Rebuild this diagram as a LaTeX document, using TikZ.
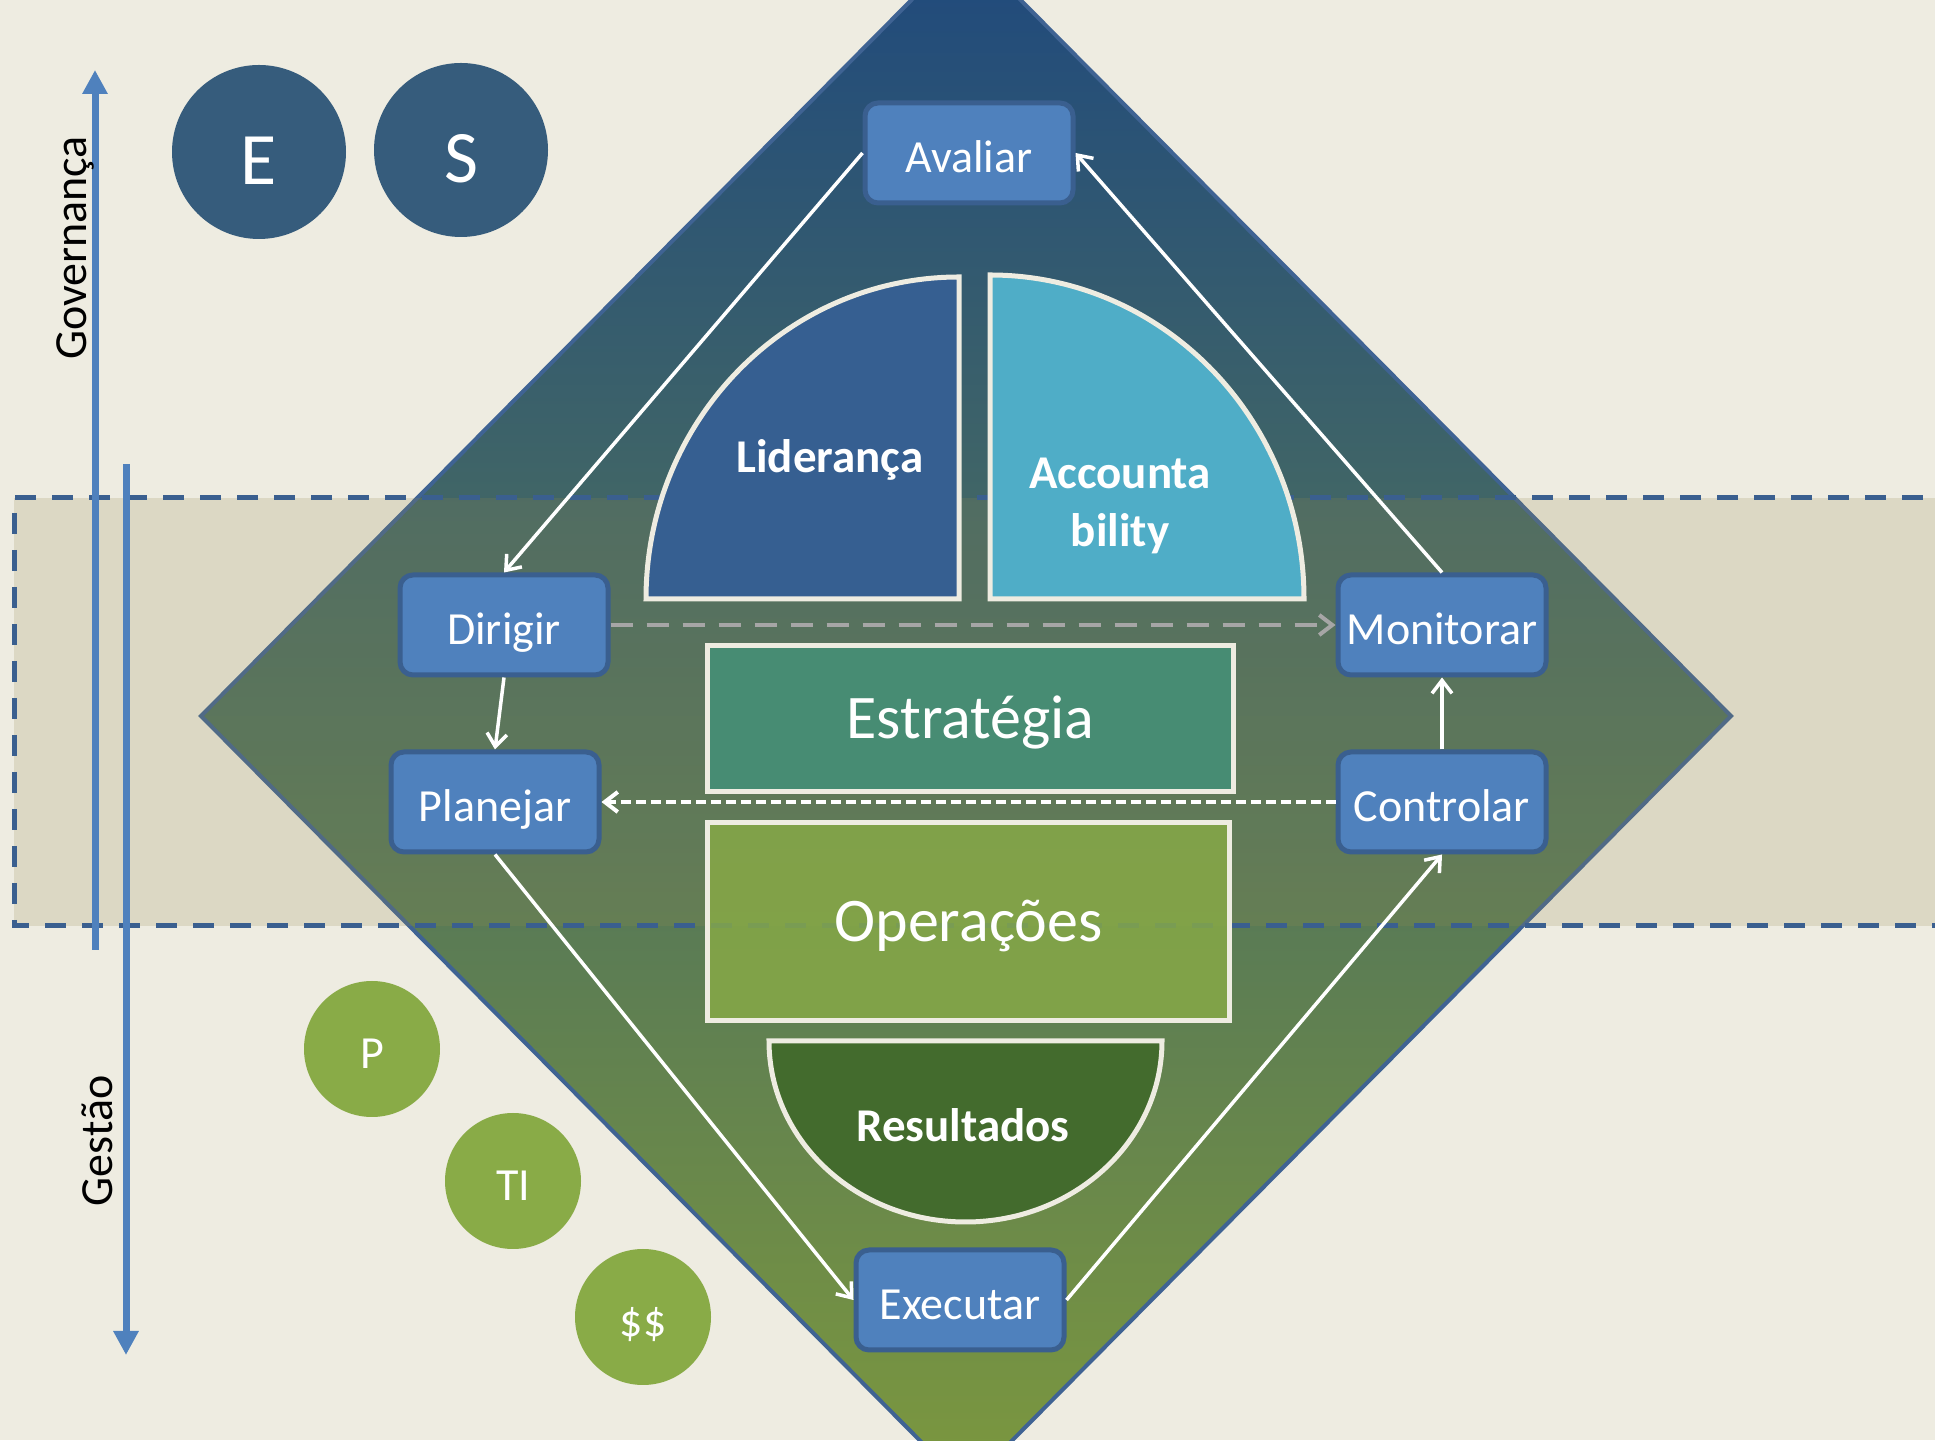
\documentclass[tikz,border=0pt]{standalone}
\usepackage{fontspec}
\setmainfont{Carlito}
\usetikzlibrary{arrows.meta}
\definecolor{fundo}{RGB}{238,236,225}
\definecolor{faixa}{RGB}{148,138,84}
\definecolor{faixaborda}{RGB}{58,95,143}
\definecolor{losango}{RGB}{63,99,147}
\definecolor{topo}{RGB}{31,73,125}
\definecolor{base}{RGB}{124,152,62}
\definecolor{eixo}{RGB}{79,129,189}
\definecolor{escuro}{RGB}{54,92,124}
\definecolor{verde}{RGB}{137,171,71}
\definecolor{lideranca}{RGB}{54,95,145}
\definecolor{accountability}{RGB}{79,173,199}
\definecolor{estrategia}{RGB}{71,140,115}
\definecolor{operacoes}{RGB}{136,170,70}
\definecolor{resultados}{RGB}{67,107,45}
\definecolor{caixaazul}{RGB}{79,129,189}
\definecolor{caixaborda}{RGB}{58,95,143}
\definecolor{cinza}{RGB}{166,166,166}

\begin{document}
\begin{tikzpicture}[x=1pt,y=1pt,
    >={Straight Barb[length=13pt,width=20pt]},
    caixa/.style={draw=caixaborda, line width=5pt, fill=caixaazul, rounded corners=13pt,
      minimum width=208pt, minimum height=100pt, inner sep=0pt, text=white,
      text height=46pt, text depth=6.4pt, font=\fontsize{46}{55}\selectfont},
    bloco/.style={draw=fundo, line width=5pt, inner sep=0pt, text=white,
      text height=50pt, text depth=10.3pt},
    rotulo/.style={text=white, font=\bfseries\fontsize{47}{58}\selectfont},
    bola/.style={circle, inner sep=0pt, text=white},
    seta/.style={draw=white, line width=3.5pt, ->}]
      \useasboundingbox (0,0) rectangle (1935,1440);
      \clip (0,0) rectangle (1935,1440);
      \fill[fundo] (0,0) rectangle (1935,1440);

      \draw[draw=losango, line width=4pt, top color=topo, bottom color=base]
        (966,1495) -- (1731,724) -- (966,-47) -- (201,724) -- cycle;
      \fill[faixa, fill opacity=0.2] (14,514) rectangle (1960,942);
      \draw[faixaborda, line width=5pt, dash pattern=on 21pt off 16pt]
        (1960,942) -- (14,942) -- (14,514) -- (1960,514);

      \coordinate (GovBase) at (95,490);
      \coordinate (GovTopo) at (95,1370);
      \coordinate (GesTopo) at (126,976);
      \coordinate (GesBase) at (126,85);
      \draw[eixo, line width=7pt, -{Triangle[length=24pt,width=24pt]}] (GovBase) -- (GovTopo);
      \draw[eixo, line width=7pt, -{Triangle[length=24pt,width=24pt]}] (GesTopo) -- (GesBase);
      \node[rotate=90, anchor=base, font=\fontsize{46}{55}\selectfont] (Governanca) at (86,1192) {Governança};
      \node[rotate=90, anchor=base, font=\fontsize{46}{55}\selectfont] (Gestao) at (112,299) {Gestão};

      \node[bola, fill=escuro, minimum size=174pt, text height=74pt, text depth=9pt,
        font=\fontsize{74}{88}\selectfont] (E) at (259,1288) {E};
      \node[bola, fill=escuro, minimum size=174pt, text height=74pt, text depth=9pt,
        font=\fontsize{74}{88}\selectfont] (S) at (461,1290) {S};
      \node[bola, fill=verde, minimum size=136pt, text height=46pt, text depth=6.4pt,
        font=\fontsize{46}{55}\selectfont] (P) at (372,391) {P};
      \node[bola, fill=verde, minimum size=136pt, text height=46pt, text depth=6.4pt,
        font=\fontsize{46}{55}\selectfont] (TI) at (513,259) {TI};
      \node[bola, fill=verde, minimum size=136pt, text height=46pt, text depth=6.4pt,
        font=\fontsize{46}{55}\selectfont] (Dinheiro) at (643,123) {\$\$};

      \draw[bloco, fill=lideranca] (646,841) arc[start angle=180, end angle=90, x radius=313pt, y radius=322pt] -- (959,841) -- cycle;
      \draw[bloco, fill=accountability] (990,841) -- (990,1165) arc[start angle=90, end angle=0, x radius=314pt, y radius=324pt] -- cycle;
      \draw[bloco, fill=resultados] (769,399) arc[start angle=180, end angle=360, x radius=196.5pt, y radius=181pt] -- cycle;
      \node[rotulo] (Lideranca) at (830,980) {Liderança};
      \node[rotulo, align=center] (Accountability) at (1120,934) {Accounta\\bility};
      \node[rotulo] (Resultados) at (963,315) {Resultados};

      \node[bloco, fill=estrategia, minimum width=526pt, minimum height=146pt,
        font=\fontsize{62}{74}\selectfont] (Estrategia) at (970.5,721.5) {Estratégia};
      \node[bloco, fill=operacoes, fill opacity=0.82, text opacity=1, minimum width=522pt, minimum height=198pt,
        font=\fontsize{62}{74}\selectfont] (Operacoes) at (968.5,518.5) {Operações};

      \node[caixa] (Avaliar) at (969,1287) {Avaliar};
      \node[caixa] (Dirigir) at (504,815) {Dirigir};
      \node[caixa] (Planejar) at (495,638) {Planejar};
      \node[caixa] (Monitorar) at (1442,815) {Monitorar};
      \node[caixa] (Controlar) at (1442,638) {Controlar};
      \node[caixa] (Executar) at (960,140) {Executar};

      \draw[seta] (Avaliar.west) -- (Dirigir.north);
      \draw[seta] (Dirigir.south) -- (Planejar.north);
      \draw[seta] (Planejar.south) -- (Executar.west);
      \draw[seta] (Executar.east) -- (Controlar.south);
      \draw[seta] (Controlar.north) -- (Monitorar.south);
      \draw[seta] (Monitorar.north) -- (Avaliar.east);
      \draw[seta, line width=4pt, dash pattern=on 10pt off 5pt] (Controlar.west) -- (Planejar.east);
      \draw[seta, draw=cinza, line width=4pt, dash pattern=on 22pt off 14pt] (Dirigir.east) -- (Monitorar.west);

      \end{tikzpicture}
\end{document}
